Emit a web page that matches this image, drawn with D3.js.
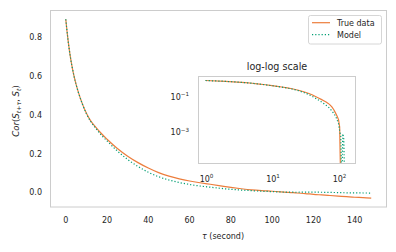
<!DOCTYPE html>
<html>
<head>
<meta charset="utf-8">
<script src="https://cdn.jsdelivr.net/npm/d3@7"></script>
<style>
  body { margin: 0; background: #fff; }
  svg { display: block; font-family: "DejaVu Sans", sans-serif; }
  .tick-label { font-size: 8px; fill: #262626; }
</style>
</head>
<body>
<svg id="chart" width="396" height="252"></svg>
<script>
// lag values (seconds) and correlations
const tau = [0, 1, 2, 3, 4, 5, 6, 8, 10, 12, 14, 17, 20, 25, 30, 35, 40, 45, 50, 55, 60, 65, 70, 75, 80, 85, 90, 95, 100, 104, 108, 112, 116, 120, 124, 128, 132, 136, 140, 144, 148];
const trueData = [0.894, 0.795, 0.715, 0.652, 0.60, 0.557, 0.52, 0.458, 0.408, 0.37, 0.343, 0.306, 0.274, 0.226, 0.186, 0.153, 0.125, 0.101, 0.083, 0.069, 0.058, 0.049, 0.041, 0.033, 0.025, 0.018, 0.012, 0.008, 0.005, 0.002, -0.0005, -0.004, -0.007, -0.011, -0.014, -0.017, -0.02, -0.023, -0.026, -0.028, -0.031];
const modelData = [0.894, 0.795, 0.715, 0.652, 0.60, 0.557, 0.52, 0.457, 0.406, 0.367, 0.338, 0.298, 0.265, 0.213, 0.169, 0.133, 0.103, 0.08, 0.063, 0.05, 0.04, 0.032, 0.026, 0.02, 0.015, 0.011, 0.008, 0.005, 0.003, 0.0012, 0.0006, -0.0003, 0.0008, 0.0004, -0.0002, -0.001, -0.002, -0.003, -0.0035, -0.004, -0.0045];

const xTicks = [0, 20, 40, 60, 80, 100, 120, 140];
const yTicks = [0.0, 0.2, 0.4, 0.6, 0.8];
const insetXTicks = [0, 1, 2];      // decades
const insetYTicks = [-1, -3];

const colors = { true: '#ec7d3c', model: '#029e73' };

const svg = d3.select('#chart');
svg.append('rect').attr('width', 396).attr('height', 252).attr('fill', '#fff');

const points = tau.map((t, i) => ({ t: t, y: trueData[i], m: modelData[i] }));

// main axes
const x = d3.scaleLinear().domain([-7.4, 155.4]).range([50.5, 386.5]);
const y = d3.scaleLinear().domain([-0.0765, 0.942]).range([207, 10]);

const main = svg.append('g');
main.append('rect')
    .attr('x', 50.5).attr('y', 10.5).attr('width', 336).attr('height', 196.5)
    .attr('fill', 'none').attr('stroke', '#cccccc').attr('stroke-width', 1);

main.selectAll('.xt').data(xTicks).enter().append('text')
    .attr('class', 'tick-label')
    .attr('x', d => x(d)).attr('y', 222.5)
    .attr('text-anchor', 'middle')
    .text(d => d);

main.selectAll('.yt').data(yTicks).enter().append('text')
    .attr('class', 'tick-label')
    .attr('x', 42).attr('y', d => y(d) + 3)
    .attr('text-anchor', 'end')
    .text(d => d.toFixed(1));

main.append('path').datum(points)
    .attr('fill', 'none').attr('stroke', colors.true).attr('stroke-width', 1.2)
    .attr('d', d3.line().curve(d3.curveMonotoneX).x(d => x(d.t)).y(d => y(d.y)));
main.append('path').datum(points)
    .attr('fill', 'none').attr('stroke', colors.model).attr('stroke-width', 1.2)
    .attr('stroke-dasharray', '1.2,2')
    .attr('d', d3.line().curve(d3.curveMonotoneX).x(d => x(d.t)).y(d => y(d.m)));

// axis labels
const xl = svg.append('text').attr('x', 223).attr('y', 239)
    .attr('text-anchor', 'middle').attr('font-size', 8).attr('fill', '#262626');
xl.append('tspan').attr('font-style', 'italic').text('τ');
xl.append('tspan').text(' (second)');

const yl = svg.append('text')
    .attr('transform', 'translate(19,111) rotate(-90)')
    .attr('text-anchor', 'middle').attr('font-size', 8.6).attr('fill', '#262626');
yl.append('tspan').attr('font-style', 'italic').text('Cor');
yl.append('tspan').text('(');
yl.append('tspan').attr('font-style', 'italic').text('S');
yl.append('tspan').attr('font-style', 'italic').attr('font-size', 6.2).attr('dy', 2).text('t+τ');
yl.append('tspan').attr('dy', -2).text(', ');
yl.append('tspan').attr('font-style', 'italic').text('S');
yl.append('tspan').attr('font-style', 'italic').attr('font-size', 6.2).attr('dy', 2).text('t');
yl.append('tspan').attr('dy', -2).text(')');

// legend
const leg = svg.append('g');
leg.append('rect').attr('x', 308.5).attr('y', 15.5).attr('width', 73).attr('height', 28.5)
    .attr('rx', 2).attr('fill', '#fff').attr('fill-opacity', 0.8)
    .attr('stroke', '#cccccc').attr('stroke-width', 0.8);
const legItems = [
    { label: 'True data', color: colors.true, dash: null },
    { label: 'Model', color: colors.model, dash: '1.2,2' }
];
legItems.forEach((d, i) => {
    const ly = 22.7 + i * 12;
    leg.append('line').attr('x1', 312).attr('x2', 330).attr('y1', ly).attr('y2', ly)
        .attr('stroke', d.color).attr('stroke-width', 1.2)
        .attr('stroke-dasharray', d.dash);
    leg.append('text').attr('x', 337).attr('y', ly + 3)
        .attr('font-size', 8).attr('fill', '#262626').text(d.label);
});

// inset (log-log)
const ix = d3.scaleLog().domain([Math.pow(10, -0.113), Math.pow(10, 2.263)]).range([198, 356]);
const iy = d3.scaleLog().domain([Math.pow(10, -4.8), Math.pow(10, 0.155)]).range([164, 76]);
const floor = 1e-6; // non-positive values are clipped below the axes

const inset = svg.append('g');
inset.append('rect').attr('x', 198).attr('y', 76).attr('width', 158).attr('height', 88).attr('fill', '#fff');
svg.append('clipPath').attr('id', 'inset-clip')
    .append('rect').attr('x', 198).attr('y', 76).attr('width', 158).attr('height', 88);

const logPoints = points.filter(d => d.t > 0);
const ig = inset.append('g').attr('clip-path', 'url(#inset-clip)');
ig.append('path').datum(logPoints)
    .attr('fill', 'none').attr('stroke', colors.true).attr('stroke-width', 1.2)
    .attr('d', d3.line().x(d => ix(d.t)).y(d => iy(Math.max(d.y, floor))));
ig.append('path').datum(logPoints)
    .attr('fill', 'none').attr('stroke', colors.model).attr('stroke-width', 1.2)
    .attr('stroke-dasharray', '1.2,2')
    .attr('d', d3.line().x(d => ix(d.t)).y(d => iy(Math.max(d.m, floor))));

inset.append('rect')
    .attr('x', 198.5).attr('y', 76.5).attr('width', 157).attr('height', 87)
    .attr('fill', 'none').attr('stroke', '#cccccc').attr('stroke-width', 1);

function powLabel(sel, exp) {
    sel.append('tspan').text('10');
    sel.append('tspan').attr('font-size', 5.6).attr('dy', -3.5).text(exp < 0 ? '−' + (-exp) : exp);
}
insetXTicks.forEach(e => {
    const t = inset.append('text').attr('class', 'tick-label')
        .attr('x', ix(Math.pow(10, e)) + 1).attr('y', 181.5).attr('text-anchor', 'middle');
    powLabel(t, e);
});
insetYTicks.forEach(e => {
    const t = inset.append('text').attr('class', 'tick-label')
        .attr('x', 189).attr('y', iy(Math.pow(10, e)) + 3).attr('text-anchor', 'end');
    powLabel(t, e);
});

inset.append('text').attr('x', 277).attr('y', 69.5).attr('text-anchor', 'middle')
    .attr('font-size', 9.6).attr('fill', '#262626').text('log-log scale');
</script>
</body>
</html>
